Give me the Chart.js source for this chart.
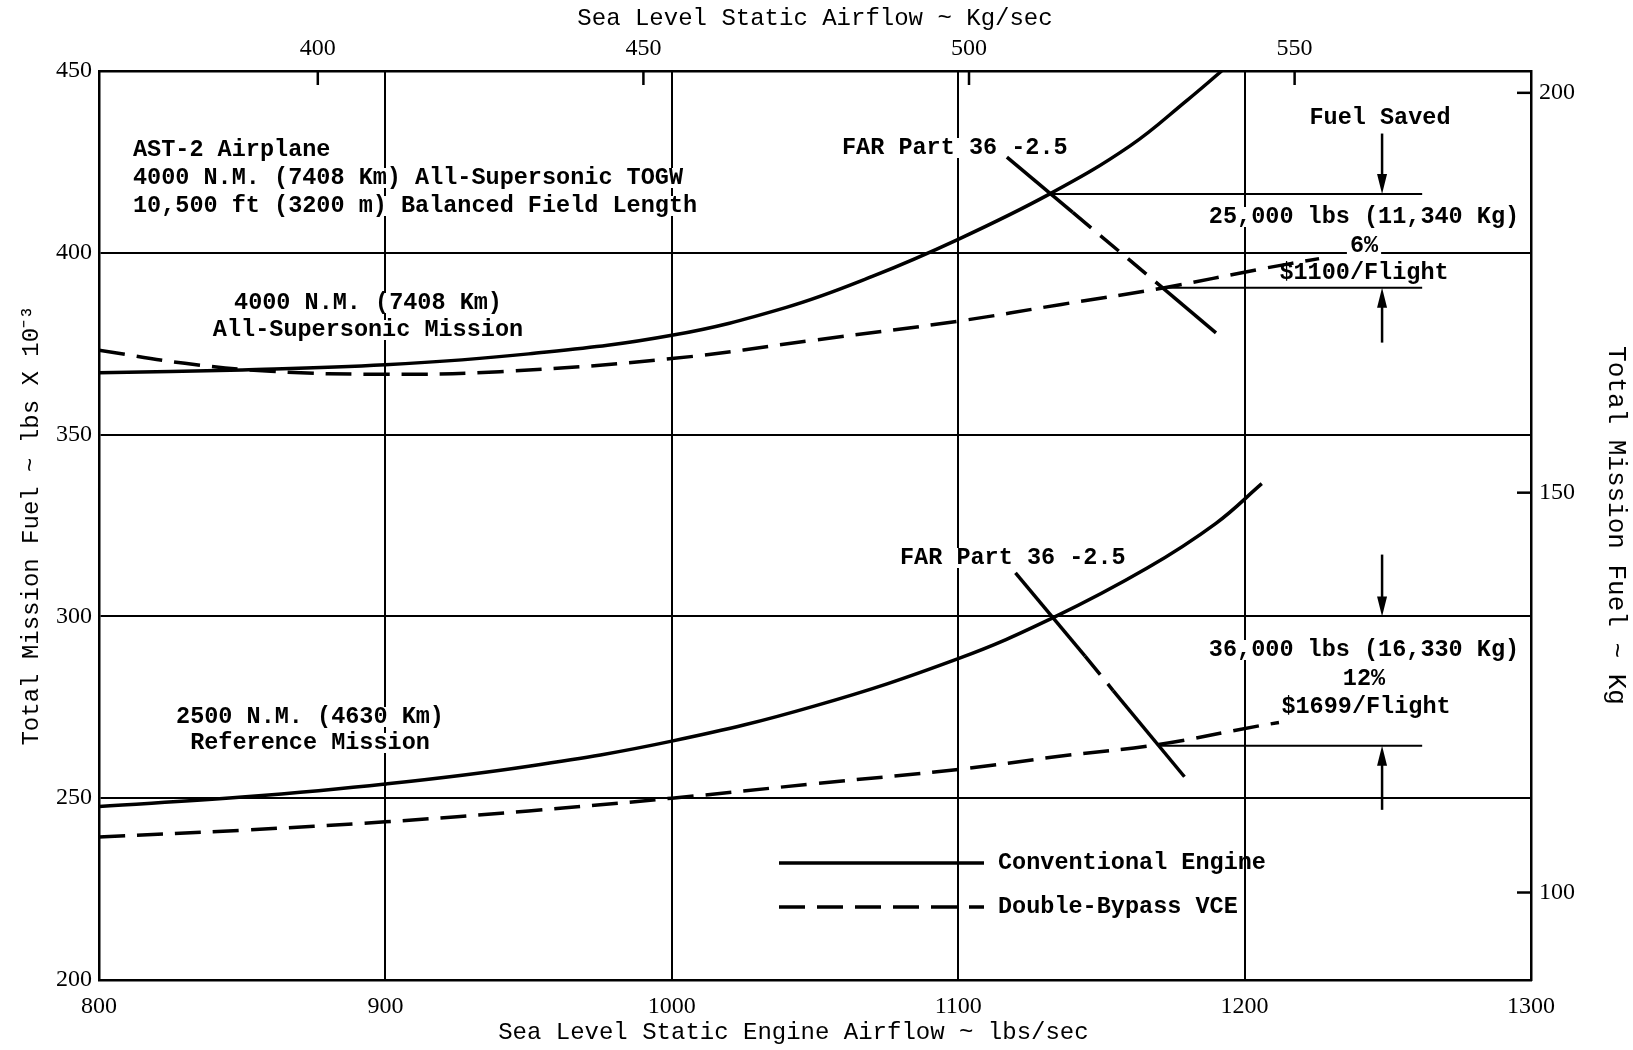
<!DOCTYPE html>
<html>
<head>
<meta charset="utf-8">
<script src="https://cdn.jsdelivr.net/npm/chart.js@4.4.1/dist/chart.umd.min.js"></script>
<style>
  html, body { margin: 0; padding: 0; background: #fff; }
  #wrap { width: 1633px; height: 1050px; }
</style>
</head>
<body>
<div id="wrap"><canvas id="fuelChart" width="1633" height="1050"></canvas></div>
<script>
// airflow ticks: lbs/sec (bottom) and Kg/sec (top)
const airflowTicks = [800, 900, 1000, 1100, 1200, 1300];
const airflowKgTicks = [400, 450, 500, 550];
// mission fuel ticks: lbs x 10^-3 (left) and Kg x 10^-3 (right)
const fuelTicks = [200, 250, 300, 350, 400, 450];
const fuelKgTicks = [100, 150, 200];

// 4000 N.M. all-supersonic mission
const longConvX = [800, 850, 900, 950, 1000, 1040, 1070, 1100, 1132, 1160, 1180, 1192];
const longConvFuel = [367.0, 367.8, 369.2, 372.2, 377.3, 385.0, 393.5, 403.7, 416.2, 429.4, 442.0, 450.0];
const longVceX = [800, 830, 860, 900, 940, 1000, 1050, 1100, 1136, 1172, 1206, 1226];
const longVceFuel = [373.2, 369.6, 367.4, 366.6, 367.3, 370.9, 376.0, 381.2, 385.8, 390.4, 395.6, 398.4];

// 2500 N.M. reference mission
const refConvX = [800, 850, 900, 950, 1000, 1050, 1100, 1133, 1166, 1190, 1206];
const refConvFuel = [247.7, 250.3, 253.9, 258.8, 265.7, 275.4, 288.4, 299.6, 313.3, 325.6, 336.5];
const refVceX = [800, 850, 900, 950, 1000, 1050, 1100, 1136, 1170, 1205, 1212];
const refVceFuel = [239.3, 241.2, 243.5, 246.5, 250.0, 254.0, 257.9, 261.6, 264.8, 269.9, 270.8];

// FAR Part 36 -2.5 lines (solid, broken, solid)
const farLongX = [1117, 1140, 1171.5, 1190];
const farLongFuel = [426.3, 411.1, 390.3, 378.0];
const farRefX = [1120, 1144.3, 1154.1, 1179];
const farRefFuel = [312.0, 289.1, 279.6, 255.9];

// fuel saved levels
const savedStartX = [1132, 1171, 1170];
const savedEndX = 1262;
const savedFuel = [416.2, 390.4, 264.4];
const arrowX = 1248;
const arrowFrom = [432.8, 375.3, 317.0, 246.8];
const arrowTo = [416.2, 390.4, 300.0, 264.4];

const tickFont = { family: 'Liberation Serif', size: 24 };
const titleFont = { family: 'Liberation Mono', size: 24 };
const noteFont = 'bold 23.5px "Liberation Mono"';

function pts(xs, ys) {
    return xs.map((x, i) => ({ x: x, y: ys[i] }));
}

function curve(xs, ys, dashed) {
    return {
        data: pts(xs, ys),
        borderColor: '#000',
        borderWidth: 3.5,
        borderDash: dashed ? [26, 12] : [],
        pointRadius: 0,
        tension: 0.4,
        fill: false
    };
}

function farLine(xs, ys) {
    return {
        data: pts(xs, ys),
        borderColor: '#000',
        borderWidth: 3.5,
        pointRadius: 0,
        tension: 0,
        segment: { borderDash: c => c.p0DataIndex === 1 ? [24, 12] : undefined },
        fill: false
    };
}

const datasets = [
    curve(longConvX, longConvFuel, false),
    curve(longVceX, longVceFuel, true),
    curve(refConvX, refConvFuel, false),
    curve(refVceX, refVceFuel, true),
    farLine(farLongX, farLongFuel),
    farLine(farRefX, farRefFuel)
];
savedFuel.forEach((f, i) => {
    datasets.push({
        data: [{ x: savedStartX[i], y: f }, { x: savedEndX, y: f }],
        borderColor: '#000', borderWidth: 2, pointRadius: 0, tension: 0, fill: false
    });
});

// text notes, canvas pixels
const notes = [
    ['AST-2 Airplane', 133, 150, 'left'],
    ['4000 N.M. (7408 Km) All-Supersonic TOGW', 133, 178, 'left'],
    ['10,500 ft (3200 m) Balanced Field Length', 133, 206, 'left'],
    ['4000 N.M. (7408 Km)', 368, 303, 'center'],
    ['All-Supersonic Mission', 368, 330, 'center'],
    ['FAR Part 36 -2.5', 842, 148, 'left'],
    ['Fuel Saved', 1380, 118, 'center'],
    ['25,000 lbs (11,340 Kg)', 1364, 217, 'center'],
    ['6%', 1364, 246, 'center'],
    ['$1100/Flight', 1364, 273, 'center'],
    ['FAR Part 36 -2.5', 900, 558, 'left'],
    ['36,000 lbs (16,330 Kg)', 1364, 650, 'center'],
    ['12%', 1364, 679, 'center'],
    ['$1699/Flight', 1366, 707, 'center'],
    ['2500 N.M. (4630 Km)', 310, 717, 'center'],
    ['Reference Mission', 310, 743, 'center']
];
const legendItems = [
    ['Conventional Engine', [], 863],
    ['Double-Bypass VCE', [26, 12], 907]
];

const notesPlugin = {
    id: 'notes',
    beforeDatasetsDraw(chart) {
        const ctx = chart.ctx;
        ctx.save();
        ctx.font = noteFont;
        ctx.fillStyle = '#fff';
        notes.forEach(([t, x, y, align]) => {
            const w = ctx.measureText(t).width;
            const x0 = align === 'center' ? x - w / 2 : x;
            ctx.fillRect(x0 - 3, y - 10, w + 6, 20);
        });
        ctx.restore();
    },
    afterDatasetsDraw(chart) {
        const { ctx, chartArea: a, scales } = chart;
        ctx.save();
        ctx.strokeStyle = '#000';
        ctx.fillStyle = '#000';

        // inner ticks of the secondary axes
        ctx.lineWidth = 2.5;
        airflowKgTicks.forEach(v => {
            const px = scales.x2.getPixelForValue(v);
            ctx.beginPath(); ctx.moveTo(px, a.top); ctx.lineTo(px, a.top + 14); ctx.stroke();
        });
        fuelKgTicks.forEach(v => {
            const py = scales.y2.getPixelForValue(v);
            ctx.beginPath(); ctx.moveTo(a.right - 14, py); ctx.lineTo(a.right, py); ctx.stroke();
        });

        // fuel saved arrows
        const ax = scales.x.getPixelForValue(arrowX);
        arrowFrom.forEach((f, i) => {
            const y0 = scales.y.getPixelForValue(f);
            const y1 = scales.y.getPixelForValue(arrowTo[i]);
            const dir = y1 > y0 ? 1 : -1;
            ctx.lineWidth = 2.5;
            ctx.beginPath(); ctx.moveTo(ax, y0); ctx.lineTo(ax, y1 - dir * 10); ctx.stroke();
            ctx.beginPath();
            ctx.moveTo(ax, y1);
            ctx.lineTo(ax - 5, y1 - dir * 20);
            ctx.lineTo(ax + 5, y1 - dir * 20);
            ctx.closePath(); ctx.fill();
        });

        // notes
        ctx.font = noteFont;
        ctx.textBaseline = 'middle';
        notes.forEach(([t, x, y, align]) => {
            ctx.textAlign = align;
            ctx.fillText(t, x, y);
        });

        // legend
        ctx.textAlign = 'left';
        legendItems.forEach(([t, dash, y]) => {
            ctx.lineWidth = 3.5;
            ctx.setLineDash(dash);
            ctx.beginPath(); ctx.moveTo(779, y); ctx.lineTo(984, y); ctx.stroke();
            ctx.setLineDash([]);
            ctx.fillText(t, 998, y);
        });
        ctx.restore();
    }
};

function fixedTicks(list) {
    return s => { s.ticks = list.map(v => ({ value: v })); };
}
const plainLabel = v => String(v);

const axisBorder = { color: '#000', width: 2.5 };

new Chart(document.getElementById('fuelChart'), {
    type: 'line',
    data: { datasets: datasets },
    plugins: [notesPlugin],
    options: {
        responsive: false,
        animation: false,
        layout: { padding: 0 },
        plugins: { legend: { display: false }, tooltip: { enabled: false } },
        scales: {
            x: {
                type: 'linear', position: 'bottom', min: 800, max: 1300,
                afterBuildTicks: fixedTicks(airflowTicks),
                afterFit: s => { s.height = 70; },
                grid: { color: '#000', lineWidth: 2, drawTicks: false },
                border: axisBorder,
                ticks: { color: '#000', font: tickFont, padding: 12, maxRotation: 0, callback: plainLabel },
                title: { display: true, text: 'Sea Level Static Engine Airflow ~ lbs/sec   ', color: '#000', font: titleFont, padding: { top: 0, bottom: 3 } }
            },
            x2: {
                type: 'linear', position: 'top', min: 366.4, max: 586.3,
                afterBuildTicks: fixedTicks(airflowKgTicks),
                afterFit: s => { s.height = 71; },
                grid: { drawOnChartArea: false, drawTicks: false },
                border: axisBorder,
                ticks: { color: '#000', font: tickFont, padding: 8, maxRotation: 0, callback: plainLabel },
                title: { display: true, text: 'Sea Level Static Airflow ~ Kg/sec', color: '#000', font: titleFont, padding: { top: 4, bottom: 0 } }
            },
            y: {
                type: 'linear', position: 'left', min: 200, max: 450,
                afterBuildTicks: fixedTicks(fuelTicks),
                afterFit: s => { s.width = 99; },
                grid: { color: '#000', lineWidth: 2, drawTicks: false },
                border: axisBorder,
                ticks: { color: '#000', font: tickFont, padding: 7, callback: plainLabel },
                title: { display: true, text: 'Total Mission Fuel ~ lbs X 10⁻³', color: '#000', font: titleFont, padding: { top: 17, bottom: 0 } }
            },
            y2: {
                type: 'linear', position: 'right', min: 89.06, max: 202.73,
                afterBuildTicks: fixedTicks(fuelKgTicks),
                afterFit: s => { s.width = 102; },
                grid: { drawOnChartArea: false, drawTicks: false },
                border: axisBorder,
                ticks: { color: '#000', font: tickFont, padding: 8, callback: plainLabel },
                title: { display: true, text: 'Total Mission Fuel ~ Kg', color: '#000', font: { family: 'Liberation Mono', size: 26 }, padding: { top: 2, bottom: 0 } }
            }
        }
    }
});
</script>
</body>
</html>
